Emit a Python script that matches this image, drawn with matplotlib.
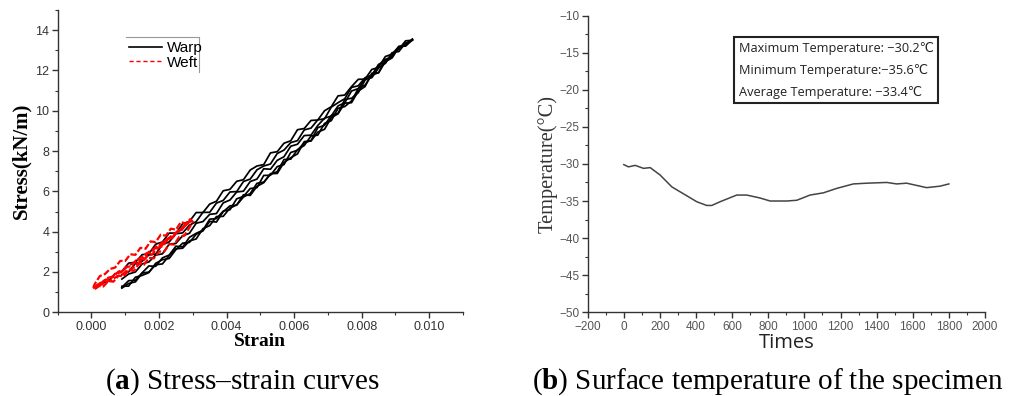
import matplotlib
matplotlib.use("Agg")
import matplotlib.pyplot as plt
from matplotlib.lines import Line2D
from matplotlib.ticker import MultipleLocator

plt.rcParams['mathtext.fontset'] = 'custom'
plt.rcParams['mathtext.rm'] = 'Liberation Serif'
plt.rcParams['mathtext.bf'] = 'Liberation Serif:bold'

# ---------------- data: (a) stress-strain ----------------
# strain sampling for the warp loading branches (ascending) and unloading branches (descending)
warp_strain_up = [0.0009, 0.0011, 0.0013, 0.0015, 0.0017, 0.0019, 0.0021, 0.0023, 0.0025, 0.0027,
                  0.0029, 0.0031, 0.0033, 0.0035, 0.0037, 0.0039, 0.0041, 0.0043, 0.0045, 0.0047,
                  0.0049, 0.0051, 0.0053, 0.0055, 0.0057, 0.0059, 0.0061, 0.0063, 0.0065, 0.0067,
                  0.0069, 0.0071, 0.0073, 0.0075, 0.0077, 0.0079, 0.0081, 0.0083, 0.0085, 0.0087,
                  0.0089, 0.0091, 0.0093, 0.0095]
warp_strain_down = warp_strain_up[::-1]
warp_strain_down_long = warp_strain_down + [0.0007, 0.0005, 0.0003]

warp_load1_stress = [1.20, 1.43, 1.51, 1.94, 2.00, 2.36, 2.40, 2.81, 3.15, 3.18,
                     3.54, 3.64, 4.15, 4.30, 4.75, 4.76, 5.17, 5.33, 5.83, 5.80,
                     6.25, 6.43, 6.88, 6.89, 7.43, 7.67, 7.86, 8.47, 8.50, 8.94,
                     9.08, 9.66, 9.85, 10.38, 10.40, 10.98, 11.20, 11.86, 11.88, 12.44,
                     12.62, 13.15, 13.25, 13.55]
warp_unload1_stress = [13.55, 13.21, 13.19, 12.81, 12.69, 12.15, 12.05, 11.57, 11.56, 11.20,
                       10.78, 10.74, 10.20, 10.00, 9.54, 9.52, 9.12, 9.06, 8.51, 8.39,
                       7.97, 7.91, 7.33, 7.26, 7.06, 6.58, 6.50, 6.10, 6.03, 5.51,
                       5.37, 4.95, 4.95, 4.51, 4.39, 3.93, 3.93, 3.49, 3.38, 2.90,
                       2.86, 2.48, 2.44, 2.03, 1.91, 1.55, 1.43]
warp_load2_stress = [1.24, 1.57, 1.59, 1.96, 2.30, 2.28, 2.70, 2.84, 3.28, 3.24,
                     3.72, 3.92, 4.07, 4.62, 4.65, 5.02, 5.09, 5.63, 5.75, 6.14,
                     6.19, 6.79, 6.80, 7.23, 7.33, 7.93, 8.04, 8.41, 8.52, 9.16,
                     9.28, 9.76, 9.87, 10.56, 10.62, 10.90, 11.52, 11.72, 12.30, 12.36,
                     12.84, 13.05, 13.47, 13.50]
warp_unload2_stress = [13.50, 13.36, 12.94, 12.88, 12.36, 12.12, 11.64, 11.58, 11.10, 10.98,
                       10.40, 10.24, 9.74, 9.63, 9.27, 8.79, 8.77, 8.34, 8.24, 7.72,
                       7.54, 7.10, 7.12, 6.61, 6.49, 6.01, 5.97, 5.57, 5.43, 4.90,
                       4.86, 4.50, 4.42, 3.92, 3.80, 3.42, 3.38, 2.90, 2.84, 2.50,
                       2.40, 2.00, 1.90, 1.65]
warp_load3_stress = [1.29, 1.30, 1.74, 1.83, 1.97, 2.43, 2.61, 2.67, 3.11, 3.43,
                     3.47, 3.87, 4.04, 4.51, 4.48, 4.99, 5.28, 5.32, 5.72, 5.89,
                     6.40, 6.46, 6.85, 6.98, 7.58, 7.60, 8.07, 8.28, 8.75, 8.79,
                     9.37, 9.51, 10.12, 10.21, 10.49, 11.11, 11.27, 11.77, 11.89, 12.51,
                     12.71, 13.16, 13.28, 13.52]
warp_unload3_stress = [13.52, 13.22, 13.19, 12.66, 12.55, 12.28, 11.77, 11.64, 11.24, 11.16,
                       10.60, 10.40, 10.18, 9.60, 9.55, 9.14, 9.05, 8.52, 8.42, 8.05,
                       7.88, 7.36, 7.26, 7.07, 6.61, 6.49, 5.99, 5.97, 5.55, 5.42,
                       4.96, 4.96, 4.50, 4.32, 3.94, 3.90, 3.49, 3.36, 2.89, 2.85,
                       2.53, 2.42, 2.01, 1.87]

weft_strain_a = [0.00010, 0.00022, 0.00035, 0.00050, 0.00065, 0.00080, 0.00095, 0.00110, 0.00125, 0.00140,
                 0.00155, 0.00170, 0.00185, 0.00200, 0.00215, 0.00230, 0.00245, 0.00260, 0.00275, 0.00290,
                 0.00300, 0.00292, 0.00280, 0.00265, 0.00250, 0.00235, 0.00220, 0.00205, 0.00190, 0.00175,
                 0.00160, 0.00145, 0.00130, 0.00115, 0.00100, 0.00085, 0.00070, 0.00055, 0.00040, 0.00025,
                 0.00015, 0.00008, 0.00005]
weft_stress_a = [1.15, 1.30, 1.28, 1.55, 1.52, 1.82, 1.78, 2.10, 2.05, 2.40,
                 2.35, 2.70, 2.68, 3.02, 3.00, 3.38, 3.36, 3.75, 3.80, 4.20,
                 4.50, 4.62, 4.40, 4.48, 4.10, 4.15, 3.80, 3.85, 3.48, 3.52,
                 3.15, 3.20, 2.85, 2.88, 2.55, 2.55, 2.22, 2.15, 1.90, 1.80,
                 1.55, 1.35, 1.18]

weft_strain_b = [0.00005, 0.00020, 0.00035, 0.00050, 0.00065, 0.00080, 0.00095, 0.00110, 0.00125, 0.00140,
                 0.00155, 0.00170, 0.00185, 0.00200, 0.00215, 0.00230, 0.00245, 0.00260, 0.00275, 0.00296,
                 0.00285, 0.00270, 0.00255, 0.00240, 0.00225, 0.00210, 0.00195, 0.00180, 0.00165, 0.00150,
                 0.00135, 0.00120, 0.00105, 0.00090, 0.00075, 0.00060, 0.00045, 0.00030, 0.00015]
weft_stress_b = [1.18, 1.40, 1.52, 1.72, 1.78, 2.02, 2.10, 2.32, 2.45, 2.65,
                 2.80, 3.00, 3.15, 3.35, 3.52, 3.70, 3.90, 4.05, 4.30, 4.55,
                 4.40, 4.18, 4.00, 3.70, 3.58, 3.28, 3.18, 2.88, 2.80, 2.50,
                 2.42, 2.15, 2.08, 1.85, 1.78, 1.60, 1.52, 1.38, 1.25]

weft_strain_c = [0.00012, 0.00028, 0.00042, 0.00058, 0.00072, 0.00088, 0.00102, 0.00118, 0.00132, 0.00148,
                 0.00162, 0.00178, 0.00192, 0.00208, 0.00222, 0.00238, 0.00252, 0.00268, 0.00282, 0.00294]
weft_stress_c = [1.28, 1.48, 1.62, 1.68, 1.95, 1.98, 2.25, 2.28, 2.58, 2.60,
                 2.92, 2.95, 3.28, 3.30, 3.62, 3.68, 3.98, 4.10, 4.42, 4.58]

# ---------------- data: (b) temperature ----------------
time_s = [0, 26, 63, 109, 146, 201, 266, 349, 404, 459, 487, 533, 625, 681, 755, 810, 903, 958,
          1031, 1105, 1179, 1271, 1345, 1456, 1511, 1566, 1677, 1751, 1800]
temp_c = [-30.1, -30.4, -30.2, -30.6, -30.5, -31.5, -33.1, -34.3, -35.1, -35.6, -35.6, -35.1, -34.2,
          -34.2, -34.6, -35.0, -35.0, -34.9, -34.2, -33.9, -33.3, -32.7, -32.6, -32.5, -32.7, -32.6,
          -33.2, -33.0, -32.7]

stats_lines = ["Maximum Temperature: \u221230.2\u2103",
               "Minimum Temperature:\u221235.6\u2103",
               "Average Temperature: \u221233.4\u2103"]

# ---------------- figure ----------------
W, H = 1019, 396
fig = plt.figure(figsize=(W / 100, H / 100), dpi=100)

def frac_box(l, t, r, b):
    return [l / W, 1 - b / H, (r - l) / W, (b - t) / H]

sans = ['Liberation Sans', 'DejaVu Sans']
serif = ['Liberation Serif', 'DejaVu Serif']

# ---- (a)
ax1 = fig.add_axes(frac_box(57.7, 10, 463, 312.3))
warp_segments = [(warp_strain_up, warp_load1_stress), (warp_strain_down_long, warp_unload1_stress),
                 (warp_strain_up, warp_load2_stress), (warp_strain_down, warp_unload2_stress),
                 (warp_strain_up, warp_load3_stress), (warp_strain_down, warp_unload3_stress)]
for sx, sy in warp_segments:
    ax1.plot(sx, sy, color='black', lw=1.25)
for sx, sy in [(weft_strain_a, weft_stress_a), (weft_strain_b, weft_stress_b), (weft_strain_c, weft_stress_c)]:
    ax1.plot(sx, sy, color='#ff0000', lw=1.6, ls=(0, (3, 1)))

ax1.set_xlim(-0.001, 0.011)
ax1.set_ylim(0, 15)
ax1.xaxis.set_minor_locator(MultipleLocator(0.001))
ax1.yaxis.set_major_locator(MultipleLocator(2))
ax1.yaxis.set_minor_locator(MultipleLocator(1))
ax1.set_xticks([0.000, 0.002, 0.004, 0.006, 0.008, 0.010])
ax1.set_xticklabels(['0.000', '0.002', '0.004', '0.006', '0.008', '0.010'])
for s in ['top', 'right']:
    ax1.spines[s].set_visible(False)
for s in ['left', 'bottom']:
    ax1.spines[s].set_linewidth(1.0)
    ax1.spines[s].set_color('#333333')
ax1.tick_params(which='major', direction='out', length=4, width=1.0, color='#333333',
                labelsize=9, labelcolor='#333333', pad=2)
ax1.tick_params(which='minor', direction='out', length=2.5, width=0.8, color='#333333')
for lab in ax1.get_xticklabels() + ax1.get_yticklabels():
    lab.set_family(sans)
ax1.set_xlabel('Strain', family=serif, fontweight='bold', fontsize=14, labelpad=0)
ax1.set_ylabel('Stress(kN/m)', family=serif, fontweight='bold', fontsize=15, labelpad=3)

handles = [Line2D([], [], color='black', lw=1.2),
           Line2D([], [], color='#ff0000', lw=1.0, ls=(0, (3, 2)))]
leg = ax1.legend(handles, ['Warp', 'Weft'], loc='upper left', bbox_to_anchor=(0.16, 0.918),
                 frameon=False, prop={'family': sans, 'size': 11}, handlelength=2.2,
                 handletextpad=0.3, labelspacing=0.05, borderaxespad=0)
# partial frame (top + right edges) as in the reference
ax1.plot([0.168, 0.349], [0.911, 0.911], transform=ax1.transAxes, color='#999999', lw=0.8, clip_on=False)
ax1.plot([0.349, 0.349], [0.911, 0.795], transform=ax1.transAxes, color='#999999', lw=0.8, clip_on=False)

# ---- (b)
ax2 = fig.add_axes(frac_box(587.7, 15.5, 985, 312.3))
ax2.plot(time_s, temp_c, color='#444444', lw=1.1)
ax2.set_xlim(-200, 2000)
ax2.set_ylim(-50, -10)
ax2.xaxis.set_major_locator(MultipleLocator(200))
ax2.xaxis.set_minor_locator(MultipleLocator(100))
ax2.yaxis.set_major_locator(MultipleLocator(5))
ax2.yaxis.set_minor_locator(MultipleLocator(2.5))
for s in ['top', 'right']:
    ax2.spines[s].set_visible(False)
for s in ['left', 'bottom']:
    ax2.spines[s].set_linewidth(1.0)
    ax2.spines[s].set_color('#333333')
ax2.tick_params(which='major', direction='out', length=4, width=1.0, color='#333333',
                labelsize=8.5, labelcolor='#555555', pad=2)
ax2.tick_params(which='minor', direction='out', length=2.5, width=0.8, color='#333333')
for lab in ax2.get_xticklabels() + ax2.get_yticklabels():
    lab.set_family(sans)
ax2.set_xlabel('Times', family=['Open Sans', 'DejaVu Sans'], fontsize=14.5, color='#222222', labelpad=0)
ax2.set_ylabel('Temperature(\u00b0C)', family=serif, fontsize=14.7, color='#333333', labelpad=1)

ax2.text(0.38, 0.912, "\n".join(stats_lines), transform=ax2.transAxes, va='top', ha='left',
         family=['Open Sans', 'DejaVu Sans'], fontsize=9.2, color='#222222', linespacing=1.9,
         bbox=dict(boxstyle='square,pad=0.35', fc='white', ec='#222222', lw=1.5))

# ---- captions
cap_font = ['Liberation Serif', 'DejaVu Serif']
cap_size = 21
cap_y = 1 - 389 / H
fig.text(105 / W, cap_y, r'($\mathbf{a}$) Stress' + '\u2013' + 'strain curves',
         family=cap_font, fontsize=cap_size, ha='left', va='baseline')
fig.text(532 / W, cap_y, r'($\mathbf{b}$) Surface temperature of the specimen',
         family=cap_font, fontsize=cap_size, ha='left', va='baseline')

fig.savefig('out.png', dpi=100)
